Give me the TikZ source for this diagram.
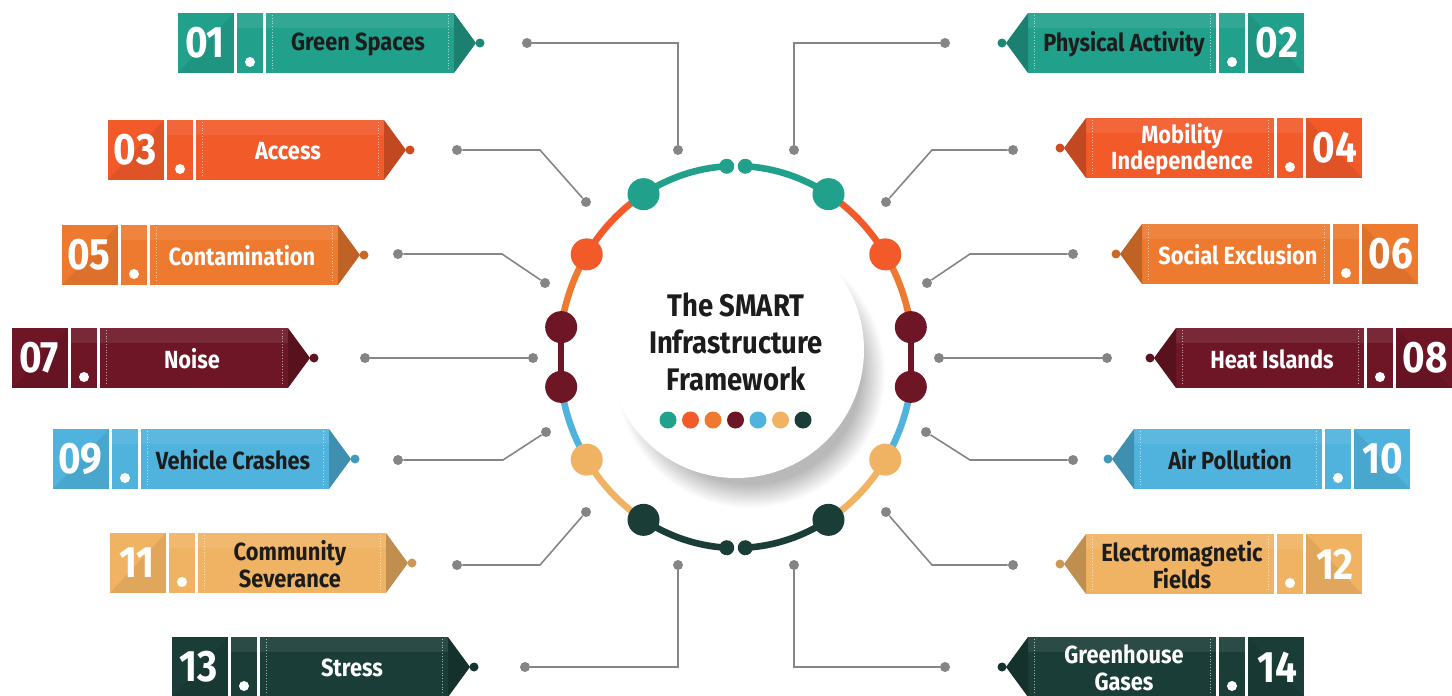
\documentclass[tikz,border=0pt]{standalone}
\usepackage{fontspec}
\setmainfont{Fira Sans}[FakeStretch=0.88]

\definecolor{cteal}{HTML}{21A08B}
\definecolor{cred}{HTML}{F25A2A}
\definecolor{corange}{HTML}{EE7A2F}
\definecolor{cwine}{HTML}{6E1626}
\definecolor{csky}{HTML}{4FB3DD}
\definecolor{csand}{HTML}{F0B363}
\definecolor{cforest}{HTML}{1A3D37}
\definecolor{ctext}{HTML}{1C1C1C}
\definecolor{cwire}{HTML}{858585}

\pgfdeclareradialshading{crescent}{\pgfpoint{0bp}{0bp}}{color(0bp)=(gray!55); color(20.5bp)=(gray!55); color(25bp)=(white); color(50bp)=(white)}

% #1 name, #2 number, #3 outer x, #4 y centre, #5 side (1 left, -1 right), #6 fill, #7 text colour, #8 label
\newcommand{\tagbanner}[8]{%
	\fill[#6] ({#3},{#4-30}) rectangle ({#3+(#5)*56},{#4+30});
	\fill[black,opacity=.07] ({#3+(#5)*56},{#4-30}) -- ({#3+(#5)*56},{#4+30}) -- ({#3},{#4+30}) -- cycle;
	\fill[#6] ({#3+(#5)*59},{#4-30}) rectangle ({#3+(#5)*85},{#4+30});
	\fill[white] ({#3+(#5)*72},{#4+19}) circle (5);
	\fill[#6] ({#3+(#5)*88},{#4-30}) rectangle ({#3+(#5)*276},{#4+30});
	\fill[white,opacity=.08] ({#3+(#5)*59},{#4-30}) rectangle ({#3+(#5)*276},{#4-15});
	\fill[#6!80!black] ({#3+(#5)*276},{#4-30}) -- ({#3+(#5)*298},{#4}) -- ({#3+(#5)*276},{#4+30}) -- cycle;
	\fill[#6!85!black] ({#3+(#5)*302},{#4}) circle (4.5);
	\draw[seam] ({#3+(#5)*94},{#4-28}) -- ({#3+(#5)*94},{#4+28});
	\draw[seam] ({#3+(#5)*270},{#4-28}) -- ({#3+(#5)*270},{#4+28});
	\node[numtext] (#1n) at ({#3+(#5)*27},{#4}) {#2};
	\node[labeltext,text=#7] (#1) at ({#3+(#5)*180},{#4+1}) {#8};
}

\begin{document}
\begin{tikzpicture}[x=0.5pt,y=-0.5pt,
	ring/.style={line width=3.3pt},
	wire/.style={draw=cwire,line width=0.8pt},
	wiredot/.style={circle,fill=cwire,inner sep=0pt,minimum size=5pt},
	seam/.style={white,densely dotted,line width=0.4pt,opacity=.6},
	numtext/.style={text=white,font=\bfseries\fontsize{22}{22}\selectfont},
	labeltext/.style={align=center,font=\bfseries\fontsize{12.4}{13.2}\selectfont}]
	\useasboundingbox[fill=white] (0,0) rectangle (1452,696);
	\coordinate (ctr) at (736,357);

	% centre disc and its shadow
	\shade[shading=crescent] (750,373) circle (135);
	\fill[white] (736,350) circle (128);

	% ring
	\draw[ring,cteal] (ctr) ++(-93:177 and 191) arc (-93:-121.5:177 and 191);
	\draw[ring,cteal] (ctr) ++(-87:177 and 191) arc (-87:-58.5:177 and 191);
	\draw[ring,cred] (ctr) ++(-121.5:177 and 191) arc (-121.5:-147.5:177 and 191);
	\draw[ring,cred] (ctr) ++(-58.5:177 and 191) arc (-58.5:-32.5:177 and 191);
	\draw[ring,corange] (ctr) ++(-147.5:177 and 191) arc (-147.5:-171:177 and 191);
	\draw[ring,corange] (ctr) ++(-32.5:177 and 191) arc (-32.5:-9:177 and 191);
	\draw[ring,cwine] (ctr) ++(-171:177 and 191) -- ++(0,59.8);
	\draw[ring,cwine] (ctr) ++(-9:177 and 191) -- ++(0,59.8);
	\draw[ring,csky] (ctr) ++(171:177 and 191) arc (171:147.5:177 and 191);
	\draw[ring,csky] (ctr) ++(9:177 and 191) arc (9:32.5:177 and 191);
	\draw[ring,csand] (ctr) ++(147.5:177 and 191) arc (147.5:121.5:177 and 191);
	\draw[ring,csand] (ctr) ++(32.5:177 and 191) arc (32.5:58.5:177 and 191);
	\draw[ring,cforest] (ctr) ++(121.5:177 and 191) arc (121.5:93:177 and 191);
	\draw[ring,cforest] (ctr) ++(58.5:177 and 191) arc (58.5:87:177 and 191);

	\fill[cteal] (ctr) ++(-93:177 and 191) circle (7.5);
	\fill[cteal] (ctr) ++(-87:177 and 191) circle (7.5);
	\fill[cteal] (ctr) ++(-121.5:177 and 191) circle (16);
	\fill[cteal] (ctr) ++(-58.5:177 and 191) circle (16);
	\fill[cred] (ctr) ++(-147.5:177 and 191) circle (16);
	\fill[cred] (ctr) ++(-32.5:177 and 191) circle (16);
	\fill[cwine] (ctr) ++(-171:177 and 191) circle (16);
	\fill[cwine] (ctr) ++(171:177 and 191) circle (16);
	\fill[cwine] (ctr) ++(-9:177 and 191) circle (16);
	\fill[cwine] (ctr) ++(9:177 and 191) circle (16);
	\fill[csand] (ctr) ++(147.5:177 and 191) circle (16);
	\fill[csand] (ctr) ++(32.5:177 and 191) circle (16);
	\fill[cforest] (ctr) ++(121.5:177 and 191) circle (16);
	\fill[cforest] (ctr) ++(58.5:177 and 191) circle (16);
	\fill[cforest] (ctr) ++(93:177 and 191) circle (7.5);
	\fill[cforest] (ctr) ++(87:177 and 191) circle (7.5);

	% title
	\node[align=center,text=ctext,font=\bfseries\fontsize{15.6}{18.6}\selectfont] (title) at (736,342) {The SMART\\Infrastructure\\Framework};
	\fill[cteal] (668,420) circle (8.5);
	\fill[cred] (690.5,420) circle (8.5);
	\fill[corange] (713,420) circle (8.5);
	\fill[cwine] (735.5,420) circle (8.5);
	\fill[csky] (758,420) circle (8.5);
	\fill[csand] (780.5,420) circle (8.5);
	\fill[cforest] (803,420) circle (8.5);

	% connectors, left
	\node[wiredot] (w01a) at (527,43) {};
	\node[wiredot] (w01b) at (678,150) {};
	\node[wiredot] (w03a) at (457,150) {};
	\node[wiredot] (w03b) at (586,202) {};
	\node[wiredot] (w05a) at (398,254) {};
	\node[wiredot] (w05b) at (545,283) {};
	\node[wiredot] (w07a) at (365,358) {};
	\node[wiredot] (w07b) at (533,358) {};
	\node[wiredot] (w09a) at (398,460) {};
	\node[wiredot] (w09b) at (546,432) {};
	\node[wiredot] (w11a) at (457,565) {};
	\node[wiredot] (w11b) at (586,512) {};
	\node[wiredot] (w13a) at (525,667) {};
	\node[wiredot] (w13b) at (678,565) {};
	\draw[wire] (w01a) -- (w01a -| w01b) -- (w01b);
	\draw[wire] (w03a) -- (540,150) -- (w03b);
	\draw[wire] (w05a) -- (502,254) -- (w05b);
	\draw[wire] (w07a) -- (w07b);
	\draw[wire] (w09a) -- (503,460) -- (w09b);
	\draw[wire] (w11a) -- (540,565) -- (w11b);
	\draw[wire] (w13a) -- (w13a -| w13b) -- (w13b);

	% connectors, right
	\node[wiredot] (w02a) at (945,43) {};
	\node[wiredot] (w02b) at (794,150) {};
	\node[wiredot] (w04a) at (1013,150) {};
	\node[wiredot] (w04b) at (886,202) {};
	\node[wiredot] (w06a) at (1073,254) {};
	\node[wiredot] (w06b) at (927,283) {};
	\node[wiredot] (w08a) at (1107,358) {};
	\node[wiredot] (w08b) at (939,358) {};
	\node[wiredot] (w10a) at (1073,460) {};
	\node[wiredot] (w10b) at (926,432) {};
	\node[wiredot] (w12a) at (1013,565) {};
	\node[wiredot] (w12b) at (886,512) {};
	\node[wiredot] (w14a) at (945,667) {};
	\node[wiredot] (w14b) at (794,565) {};
	\draw[wire] (w02a) -- (w02a -| w02b) -- (w02b);
	\draw[wire] (w04a) -- (932,150) -- (w04b);
	\draw[wire] (w06a) -- (970,254) -- (w06b);
	\draw[wire] (w08a) -- (w08b);
	\draw[wire] (w10a) -- (970,460) -- (w10b);
	\draw[wire] (w12a) -- (932,565) -- (w12b);
	\draw[wire] (w14a) -- (w14a -| w14b) -- (w14b);

	% banners
	\tagbanner{b01}{01}{178}{43}{1}{cteal}{ctext}{Green Spaces}
	\tagbanner{b03}{03}{108}{150}{1}{cred}{white}{Access}
	\tagbanner{b05}{05}{62}{255}{1}{corange}{white}{Contamination}
	\tagbanner{b07}{07}{12}{358}{1}{cwine}{white}{Noise}
	\tagbanner{b09}{09}{53}{459}{1}{csky}{ctext}{Vehicle Crashes}
	\tagbanner{b11}{11}{110}{563}{1}{csand}{ctext}{Community\\Severance}
	\tagbanner{b13}{13}{172}{667}{1}{cforest}{white}{Stress}
	\tagbanner{b02}{02}{1304}{43}{-1}{cteal}{ctext}{Physical Activity}
	\tagbanner{b04}{04}{1362}{148}{-1}{cred}{white}{Mobility\\Independence}
	\tagbanner{b06}{06}{1418}{254}{-1}{corange}{white}{Social Exclusion}
	\tagbanner{b08}{08}{1452}{358}{-1}{cwine}{white}{Heat Islands}
	\tagbanner{b10}{10}{1410}{459}{-1}{csky}{ctext}{Air Pollution}
	\tagbanner{b12}{12}{1362}{564}{-1}{csand}{ctext}{Electromagnetic\\Fields}
	\tagbanner{b14}{14}{1304}{667}{-1}{cforest}{white}{Greenhouse\\Gases}
\end{tikzpicture}
\end{document}
